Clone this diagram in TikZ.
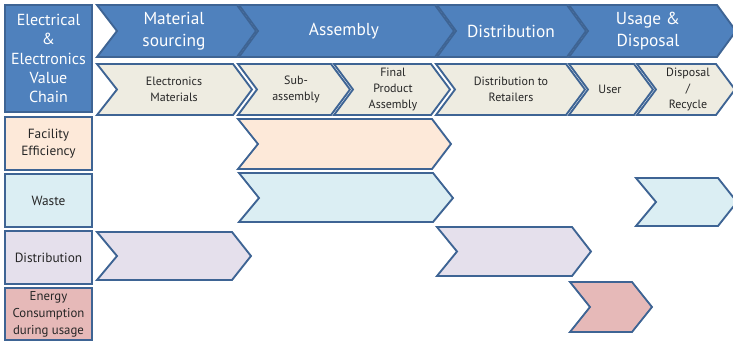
\documentclass[tikz,border=0pt]{standalone}
\usepackage{fontspec}
\setmainfont{PT Sans}
\usepackage{tikz}
\usepackage{xcolor}

\begin{document}
\begin{tikzpicture}[x=0.75pt,y=0.75pt,yscale=-1,xscale=1,
    edge/.style={draw={rgb, 255:red, 62; green, 100; blue, 148}, line width=1.4pt, line join=miter},
    stage/.style={edge, fill={rgb, 255:red, 79; green, 129; blue, 189}},
    sub/.style={edge, fill={rgb, 255:red, 238; green, 236; blue, 225}},
    facil/.style={edge, fill={rgb, 255:red, 253; green, 233; blue, 217}},
    waste/.style={edge, fill={rgb, 255:red, 219; green, 238; blue, 243}},
    distr/.style={edge, fill={rgb, 255:red, 229; green, 224; blue, 236}},
    energy/.style={edge, fill={rgb, 255:red, 230; green, 185; blue, 184}},
    head/.style={text=white, align=center, inner sep=0.75pt, font=\fontsize{13}{16.5}\selectfont},
    small/.style={text={rgb, 255:red, 38; green, 38; blue, 38}, align=center, inner sep=0.75pt, font=\fontsize{9}{12}\selectfont},
    side/.style={text={rgb, 255:red, 38; green, 38; blue, 38}, align=center, inner sep=0.75pt, font=\fontsize{10}{12.8}\selectfont}
  ]
  \useasboundingbox (0,0) rectangle (733,342);
  \clip (0,0) rectangle (733,342);

  %Shape: Rectangles, left column
  \draw [stage] (5,5) rectangle (92,112) ;
  \draw [facil] (5,117) rectangle (92,170) ;
  \draw [waste] (5,174) rectangle (92,227) ;
  \draw [distr] (5,231) rectangle (92,284) ;
  \draw [energy] (5,288) rectangle (92,340) ;

  %Shape: Chevrons, stages
  \draw [stage] (97,5) -- (237,5) -- (256,31) -- (237,57) -- (97,57) -- (117,31) -- cycle ;
  \draw [stage] (239,5) -- (435,5) -- (454,31) -- (435,57) -- (239,57) -- (258,31) -- cycle ;
  \draw [stage] (437,5) -- (567,5) -- (586,31) -- (567,57) -- (437,57) -- (456,31) -- cycle ;
  \draw [stage] (569,5) -- (717,5) -- (736,31) -- (717,57) -- (569,57) -- (588,31) -- cycle ;

  %Shape: Chevrons, sub steps
  \draw [sub] (97,64) -- (233,64) -- (252,89.5) -- (233,115) -- (97,115) -- (117,89.5) -- cycle ;
  \draw [sub] (238,64) -- (331,64) -- (350,89.5) -- (331,115) -- (238,115) -- (257,89.5) -- cycle ;
  \draw [sub] (334,64) -- (431,64) -- (450,89.5) -- (431,115) -- (334,115) -- (353,89.5) -- cycle ;
  \draw [sub] (436,64) -- (566,64) -- (585,89.5) -- (566,115) -- (436,115) -- (455,89.5) -- cycle ;
  \draw [sub] (569,64) -- (634,64) -- (653,89.5) -- (634,115) -- (569,115) -- (588,89.5) -- cycle ;
  \draw [sub] (637,64) -- (716,64) -- (735,89.5) -- (716,115) -- (637,115) -- (656,89.5) -- cycle ;

  %Shape: Chevrons, impact rows
  \draw [facil] (238,119) -- (432,119) -- (451,144) -- (432,169) -- (238,169) -- (258,144) -- cycle ;
  \draw [waste] (239,173) -- (433,173) -- (453,198) -- (433,222) -- (239,222) -- (259,198) -- cycle ;
  \draw [waste] (636,178) -- (718,178) -- (737,202) -- (718,226) -- (636,226) -- (656,202) -- cycle ;
  \draw [distr] (97,232) -- (232,232) -- (251,256) -- (232,280) -- (97,280) -- (117,256) -- cycle ;
  \draw [distr] (437,227) -- (572,227) -- (591,251.5) -- (572,276) -- (437,276) -- (457,251.5) -- cycle ;
  \draw [energy] (570,282) -- (632,282) -- (652,307) -- (632,332) -- (570,332) -- (590,307) -- cycle ;

  % Text Node
  \node [head, font=\fontsize{12}{14.6}\selectfont] (chain) at (48.5,58.5) {Electrical\\\&\\Electronics\\Value\\Chain};
  \node [side] (lfacil) at (48.5,143.5) {Facility\\Efficiency};
  \node [side] (lwaste) at (48.5,200.5) {Waste};
  \node [side] (ldistr) at (48.5,257.5) {Distribution};
  \node [side, font=\fontsize{9.6}{12.8}\selectfont] (lenergy) at (48.5,314) {Energy\\Consumption\\during usage};
  % Text Node
  \node [head] (sourcing) at (174,31) {Material\\sourcing};
  \node [head] (assembly) at (344,31) {Assembly};
  \node [head] (distribution) at (511,31) {Distribution};
  \node [head] (usage) at (648,31) {Usage \&\\Disposal};
  % Text Node
  \node [small] (materials) at (174,89.5) {Electronics\\Materials};
  \node [small] (subassy) at (296,89.5) {Sub-\\assembly};
  \node [small] (finalassy) at (393,89.5) {Final\\Product\\Assembly};
  \node [small] (retailers) at (511,89.5) {Distribution to\\Retailers};
  \node [small] (user) at (610,89.5) {User};
  \node [small] (recycle) at (688,89.5) {Disposal\\/\\Recycle};
\end{tikzpicture}
\end{document}
